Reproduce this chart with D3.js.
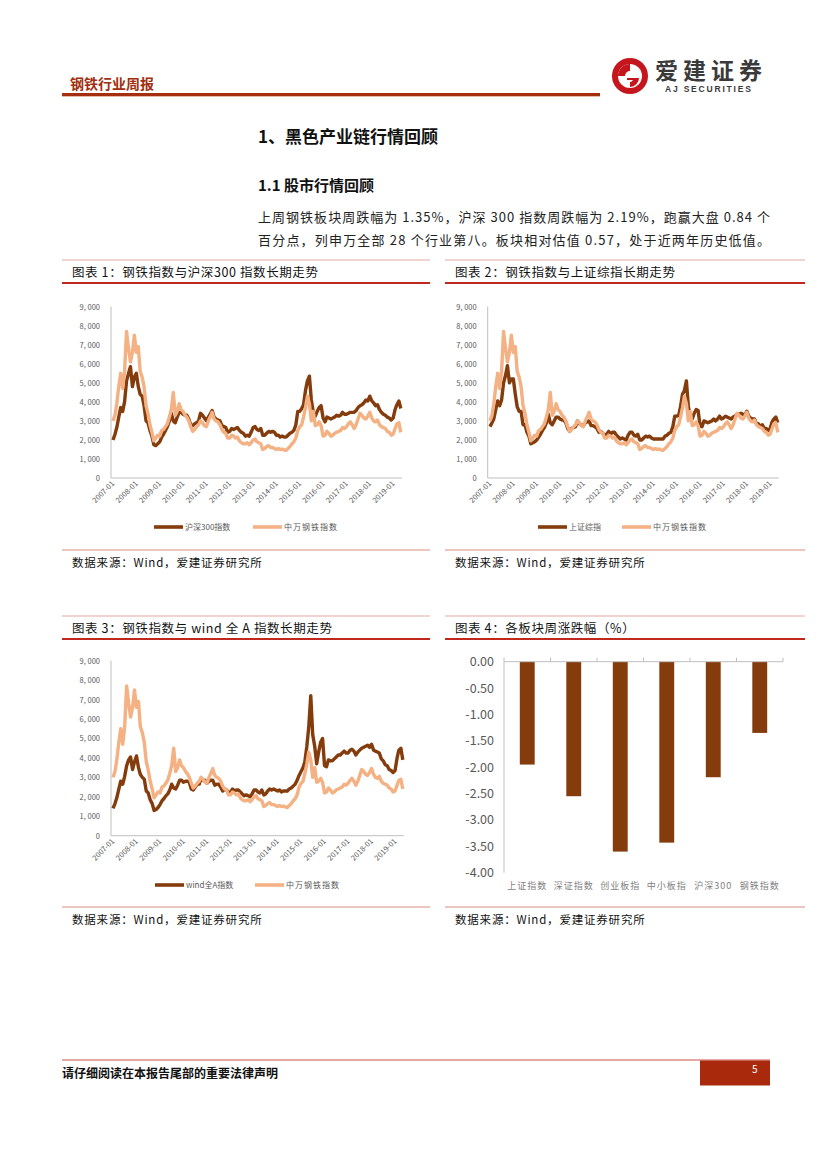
<!DOCTYPE html>
<html><head><meta charset="utf-8">
<script src="https://cdn.jsdelivr.net/npm/d3@7/dist/d3.min.js"></script>
<style>
html,body{margin:0;padding:0;background:#fff;}
svg{display:block;font-family:"Noto Sans CJK SC","Noto Sans",sans-serif;}
</style></head>
<body>
<svg id="page" width="827" height="1169"></svg>
<script>
// ---------- DATA (monthly, 2007-01 .. 2019-05) ----------
const startMonth = "2007-01";
const endMonth = "2019-05";
const steelIndex = [ // 中万钢铁指数
3000,3300,3900,4800,5500,4700,5600,7700,6800,6100,6600,7500,
6600,6900,5600,5300,4800,3800,3400,2800,2400,1950,2100,2250,
2200,2500,2550,2700,2850,3200,3600,4500,3300,3500,3900,3600,
3500,3300,3200,3000,2700,2450,2550,2700,2800,3000,2900,2750,
2700,3000,3200,3450,3100,3000,2950,2800,2550,2400,2350,2100,
2100,2250,2200,2100,2150,1950,1850,1800,1800,1850,1750,1850,
2000,2050,1900,1850,1800,1500,1550,1650,1700,1600,1600,1550,
1500,1550,1500,1520,1480,1450,1550,1650,1800,1900,2100,2500,
2700,2800,3200,3700,4300,3900,3000,3500,2750,2800,2950,2750,
2200,2250,2450,2350,2200,2250,2350,2400,2450,2500,2650,2600,
2700,2850,2950,2800,2600,2800,3100,3400,3300,3150,3100,3250,
3450,3150,3000,2950,3050,2800,2700,2650,2600,2450,2400,2250,
2300,2600,2850,2900,2400];
const hs300Index = [ // 沪深300指数
2000,2300,2650,3200,3700,3500,4000,5100,5500,5850,4800,5300,
5500,4800,4400,4300,3800,3000,2900,2500,2200,1750,1700,1800,
1900,2150,2300,2500,2700,3000,3400,3000,2900,3200,3450,3450,
3350,3300,3300,3100,2800,2750,2850,2900,3000,3400,3300,3150,
3000,3200,3350,3550,3200,3100,3050,3000,2750,2700,2650,2400,
2450,2600,2550,2600,2650,2500,2400,2350,2200,2250,2200,2400,
2650,2700,2550,2500,2600,2250,2250,2350,2450,2400,2450,2400,
2250,2250,2150,2200,2150,2150,2250,2350,2400,2500,2800,3500,
3500,3650,3850,4600,5100,5350,4100,3450,3250,3500,3700,3800,
3150,2950,3200,3150,3100,3150,3200,3300,3250,3300,3450,3350,
3350,3400,3450,3450,3450,3550,3700,3800,3850,3950,4100,4050,
4300,4050,3950,3800,3850,3600,3450,3350,3300,3200,3150,3050,
3150,3600,3850,4050,3650];
const sseIndex = [ // 上证综指
2700,2900,3100,3600,4050,3800,4100,5000,5400,5900,5000,5200,
5200,4400,3750,3500,3500,2800,2800,2400,2200,1800,1850,1900,
2000,2150,2300,2500,2650,2900,3350,2900,2800,3000,3200,3200,
3100,3050,3050,2900,2600,2450,2600,2650,2700,3000,2850,2800,
2750,2900,2950,3000,2750,2750,2700,2600,2400,2450,2350,2200,
2300,2450,2300,2400,2400,2250,2150,2050,2100,2050,2000,2250,
2400,2400,2250,2200,2300,2000,2000,2100,2200,2150,2200,2100,
2050,2050,2050,2050,2050,2050,2200,2250,2350,2400,2700,3250,
3250,3300,3750,4400,4600,5100,3750,3300,3100,3400,3600,3550,
2750,2700,3000,2950,2900,2950,3000,3100,3000,3100,3250,3100,
3150,3250,3200,3150,3100,3200,3250,3350,3350,3400,3350,3300,
3500,3250,3150,3100,3100,2850,2850,2700,2800,2600,2600,2500,
2600,2950,3100,3200,2900];
const windAIndex = [ // wind全A指数
1400,1650,1950,2400,2800,2650,3050,3600,3900,4050,3400,3800,
4100,3500,3150,3000,2900,2300,2200,1850,1650,1300,1350,1450,
1600,1800,1900,2050,2150,2350,2650,2450,2400,2600,2850,2850,
2750,2800,2800,2750,2400,2350,2500,2650,2650,2950,2850,2850,
2700,2800,2850,2850,2600,2650,2650,2500,2300,2400,2350,2200,
2250,2400,2300,2350,2350,2250,2150,2050,2100,2050,2000,2150,
2350,2350,2250,2200,2350,2100,2150,2300,2400,2350,2400,2350,
2300,2350,2250,2300,2300,2300,2400,2450,2550,2650,2850,3100,
3300,3500,3800,4600,5600,7200,5200,4600,3700,4300,4800,5000,
3600,3550,3900,3850,3850,3950,4050,4150,4150,4250,4350,4250,
4250,4400,4450,4350,4150,4300,4400,4500,4550,4600,4650,4550,
4700,4400,4350,4300,4250,3950,3850,3650,3600,3400,3350,3250,
3350,4000,4400,4500,3900];
const yTicks = [0,1000,2000,3000,4000,5000,6000,7000,8000,9000];
const yearTicks = ["2007-01","2008-01","2009-01","2010-01","2011-01","2012-01","2013-01","2014-01","2015-01","2016-01","2017-01","2018-01","2019-01"];

const barCategories = ["上证指数","深证指数","创业板指","中小板指","沪深300","钢铁指数"];
const barValues = [-1.95,-2.55,-3.60,-3.43,-2.19,-1.35];
const barTicks = [0,-0.5,-1,-1.5,-2,-2.5,-3,-3.5,-4];

// ---------- STYLE ----------
const DARK = "#843C0C", LIGHT = "#F4B183", GREY = "#595959", AXIS = "#BFBFBF";
const svg = d3.select("#page");
const parse = d3.timeParse("%Y-%m");
const months = d3.timeMonth.range(parse(startMonth), d3.timeMonth.offset(parse(endMonth),1));

// ---------- HEADER ----------
svg.append("text").attr("x",70).attr("y",89).attr("font-size",14).attr("font-weight",700)
  .attr("fill","#A0300F").text("钢铁行业周报");
svg.append("rect").attr("x",62).attr("y",93).attr("width",538).attr("height",3).attr("fill","#A52E0E");
svg.append("rect").attr("x",62).attr("y",96).attr("width",538).attr("height",1).attr("fill","#E8B8A8");
// logo
const logo = svg.append("g").attr("transform","translate(630,76)");
logo.append("circle").attr("r",18).attr("fill","#C4161C");
logo.append("circle").attr("r",12).attr("fill","#fff");
logo.append("path").attr("d","M-12,0 A12,12 0 0 1 0,-12 L0,-5 A5,5 0 0 0 -5,0 Z").attr("fill","#C4161C");
logo.append("path").attr("d","M-3,2 L9,2 A9,9 0 0 1 0,11 L0,6 A4,4 0 0 0 3,4 L-3,4 Z").attr("fill","#C4161C");
logo.append("rect").attr("x",-18).attr("y",-1.5).attr("width",6).attr("height",3).attr("fill","#C4161C");
svg.append("text").attr("x",655).attr("y",79).attr("font-size",23).attr("font-weight",700)
  .attr("fill","#3a3a3a").attr("letter-spacing",5).text("爱建证券");
svg.append("text").attr("x",665).attr("y",92).attr("font-size",8.5).attr("font-weight",700)
  .attr("fill","#3a3a3a").attr("letter-spacing",1.8).attr("font-family","Liberation Sans, Arial").text("AJ SECURITIES");

// ---------- HEADINGS ----------
svg.append("text").attr("x",258).attr("y",143).attr("font-size",17).attr("font-weight",700)
  .attr("fill","#111").text("1、黑色产业链行情回顾");
svg.append("text").attr("x",258).attr("y",191).attr("font-size",15).attr("font-weight",700)
  .attr("fill","#111").text("1.1 股市行情回顾");
svg.append("text").attr("x",258).attr("y",222).attr("font-size",13).attr("fill","#222")
  .attr("textLength",512).attr("lengthAdjust","spacing")
  .text("上周钢铁板块周跌幅为 1.35%，沪深 300 指数周跌幅为 2.19%，跑赢大盘 0.84 个");
svg.append("text").attr("x",258).attr("y",245).attr("font-size",13).attr("fill","#222")
  .attr("textLength",512).attr("lengthAdjust","spacing")
  .text("百分点，列申万全部 28 个行业第八。板块相对估值 0.57，处于近两年历史低值。");

// ---------- FRAME FOR EACH FIGURE ----------
function frame(x0, x1, top, title, bottom) {
  svg.append("line").attr("x1",x0).attr("x2",x1).attr("y1",top).attr("y2",top)
    .attr("stroke","#E2A9A0").attr("stroke-width",1);
  svg.append("text").attr("x",x0+10).attr("y",top+17).attr("font-size",12.5).attr("fill","#111")
    .attr("letter-spacing",0.6).text(title);
  svg.append("line").attr("x1",x0).attr("x2",x1).attr("y1",top+23).attr("y2",top+23)
    .attr("stroke","#C0281E").attr("stroke-width",2);
  svg.append("line").attr("x1",x0).attr("x2",x1).attr("y1",bottom).attr("y2",bottom)
    .attr("stroke","#D98C80").attr("stroke-width",1);
  svg.append("text").attr("x",x0+10).attr("y",bottom+17).attr("font-size",11.5).attr("fill","#111")
    .attr("letter-spacing",0.8).text("数据来源：Wind，爱建证券研究所");
}

function lineChart(o) {
  const g = svg.append("g");
  const x = d3.scaleTime().domain([months[0], months[months.length-1]]).range([o.x0, o.x1]);
  const y = d3.scaleLinear().domain([0,9000]).range([o.yb, o.yt]);
  g.append("line").attr("x1",o.ax).attr("x2",o.ax).attr("y1",o.yt).attr("y2",o.yb).attr("stroke",AXIS);
  g.append("line").attr("x1",o.ax).attr("x2",o.x1+1).attr("y1",o.yb).attr("y2",o.yb).attr("stroke",AXIS);
  g.selectAll(".yt").data(yTicks).join("text")
    .attr("x",o.ax-11).attr("y",d=>y(d)+3).attr("text-anchor","end")
    .attr("font-size",7.5).attr("fill",GREY).text(d=>d3.format(",")(d).replace(",", ", "));
  g.selectAll(".xt").data(yearTicks).join("text")
    .attr("transform",d=>`translate(${x(parse(d))+2},${o.yb+6}) rotate(-45)`)
    .attr("text-anchor","end").attr("font-size",7.5).attr("fill",GREY).text(d=>d);
  const line = d3.line().x((d,i)=>x(months[i])).y(d=>y(d)).curve(d3.curveLinear);
  g.append("path").datum(o.dark).attr("d",line).attr("fill","none")
    .attr("stroke",DARK).attr("stroke-width",3.4).attr("stroke-linejoin","round");
  g.append("path").datum(o.light).attr("d",line).attr("fill","none")
    .attr("stroke",LIGHT).attr("stroke-width",3.4).attr("stroke-linejoin","round");
  const ly = o.ly;
  g.append("line").attr("x1",o.l1).attr("x2",o.l1+29).attr("y1",ly).attr("y2",ly).attr("stroke",DARK).attr("stroke-width",3.6);
  g.append("text").attr("x",o.l1+31).attr("y",ly+3).attr("font-size",8).attr("fill",GREY).text(o.darkName);
  g.append("line").attr("x1",o.l2).attr("x2",o.l2+29).attr("y1",ly).attr("y2",ly).attr("stroke",LIGHT).attr("stroke-width",3.6);
  g.append("text").attr("x",o.l2+31).attr("y",ly+3).attr("font-size",8).attr("fill",GREY)
    .attr("letter-spacing",1).text("中万钢铁指数");
}

frame(62, 430, 260, "图表 1：钢铁指数与沪深300 指数长期走势", 550);
lineChart({ax:111, x0:113, x1:400.8, yt:306.7, yb:478, dark:hs300Index, light:steelIndex,
  darkName:"沪深300指数", l1:154, l2:253, ly:527});
frame(445, 805, 260, "图表 2：钢铁指数与上证综指长期走势", 550);
lineChart({ax:487.7, x0:490, x1:777.8, yt:306.7, yb:478, dark:sseIndex, light:steelIndex,
  darkName:"上证综指", l1:538, l2:622, ly:527});
frame(62, 430, 616, "图表 3：钢铁指数与 wind 全 A 指数长期走势", 907);
lineChart({ax:111, x0:113, x1:402.8, yt:660.7, yb:835.7, dark:windAIndex, light:steelIndex,
  darkName:"wind全A指数", l1:155, l2:255, ly:885});
frame(445, 805, 616, "图表 4：各板块周涨跌幅（%）", 907);
(function(){
  const g = svg.append("g");
  const x = d3.scaleBand().domain(barCategories).range([504,783]).paddingInner(0.68).paddingOuter(0.34);
  const y = d3.scaleLinear().domain([-4,0]).range([872.7,661.7]);
  const band = d3.scaleBand().domain(barCategories).range([504,783]);
  g.append("line").attr("x1",504).attr("x2",504).attr("y1",661.7).attr("y2",872.7).attr("stroke",AXIS);
  g.selectAll(".tk").data(barCategories.concat(["end"])).join("line")
    .attr("x1",(d,i)=>504+i*band.bandwidth()).attr("x2",(d,i)=>504+i*band.bandwidth())
    .attr("y1",661.7).attr("y2",657.7).attr("stroke",AXIS);
  g.selectAll("rect").data(barValues).join("rect")
    .attr("x",(d,i)=>x(barCategories[i])).attr("width",x.bandwidth())
    .attr("y",y(0)).attr("height",d=>y(d)-y(0)).attr("fill","#843C0C");
  g.append("line").attr("x1",504).attr("x2",783).attr("y1",661.7).attr("y2",661.7).attr("stroke",AXIS);
  g.selectAll(".yl").data(barTicks).join("text")
    .attr("x",494).attr("y",d=>y(d)+4.5).attr("text-anchor","end").attr("font-size",12.5)
    .attr("fill",GREY).text(d=>d3.format(".2f")(d).replace("−","-"));
  g.selectAll(".xl").data(barCategories).join("text")
    .attr("x",d=>band(d)+band.bandwidth()/2).attr("y",889).attr("text-anchor","middle")
    .attr("font-size",9).attr("fill","#7F7F7F").attr("letter-spacing",1).text(d=>d);
})();

svg.append("line").attr("x1",62).attr("x2",770).attr("y1",1060).attr("y2",1060).attr("stroke","#C9504A").attr("stroke-width",1);
svg.append("rect").attr("x",700).attr("y",1060.5).attr("width",70).attr("height",25).attr("fill","#A8290C");
svg.append("text").attr("x",752).attr("y",1073).attr("font-size",10).attr("fill","#fff").text("5");
svg.append("text").attr("x",62).attr("y",1078).attr("font-size",12).attr("font-weight",700).attr("fill","#111").text("请仔细阅读在本报告尾部的重要法律声明");
</script>
</body></html>
